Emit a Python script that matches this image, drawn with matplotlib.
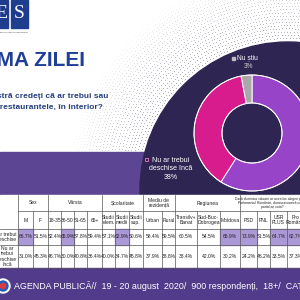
import numpy as np
import matplotlib.pyplot as plt
from matplotlib.patches import Rectangle, Circle

# donut values
slice_labels = ['Ar trebui deschise', 'Nu ar trebui\ndeschise încă', 'Nu știu']
slice_values = [59, 38, 3]
slice_colors = ['#9844c8', '#d81b8d', '#a9a9a9']

# table
group_names = ['Sex', 'Vârsta', 'Școlaritate', 'Mediu de\nrezidență', 'Regiunea',
               'Dacă duminica viitoare ar avea loc alegeri pentru\nParlamentul României, dumneavoastră cu ce\npartid ați vota?']
group_spans = [2, 4, 3, 2, 3, 4]
column_names = ['M', 'F', '18-35', '36-50', '51-65', '65+',
                'Studii\nelem.', 'Studii\nmedii', 'Studii\nsup.', 'Urban', 'Rural',
                'Transilv+\nBanat', 'Sud-Buc-\nDobrogea', 'Moldova',
                'PSD', 'PNL', 'USR\nPLUS', 'Pro\nRomânia']
row_names = ['Ar trebui\ndeschise', 'Nu ar\ntrebui\ndeschise\nîncă']
row_open = [66.7, 51.5, 52.4, 65.9, 57.8, 59.4, 57.1, 62.9, 50.6, 58.4, 59.5,
            60.5, 54.5, 65.9, 73.9, 51.5, 64.7, 62.7]
row_closed = [31.0, 45.3, 46.7, 30.0, 40.8, 36.4, 40.0, 34.7, 45.8, 37.9, 38.8,
              38.4, 42.0, 30.2, 24.2, 46.2, 33.5, 37.3]
highlight = [True, False, False, True, False, False, False, True, False, False, False,
             False, False, True, True, False, True, True]

title = 'TEMA ZILEI'
question = ['Dumneavoastră credeți că ar trebui sau',
            'nu să fie deschise restaurantele, în interior?']
footer = 'AGENDA PUBLICĂ//  19 - 20 august  2020/  900 respondenți,  18+/  CATI'

plt.rcParams['font.family'] = ['Liberation Sans', 'DejaVu Sans']

fig = plt.figure(figsize=(3, 3), dpi=100)
ax = fig.add_axes([0, 0, 1, 1])

# background dot pattern
dcx, dcy = 288, 190
for r in np.arange(152, 222, 3.2):
    n = int(2 * np.pi * r / 3.2)
    t = np.linspace(0, 2 * np.pi, n, endpoint=False)
    xs = dcx + r * np.cos(t)
    ys = dcy + r * np.sin(t)
    keep = ys < 152
    a = max(0.0, 1 - (r - 152) / 70)
    ax.scatter(xs[keep], ys[keep], s=0.35, color='#8c8ca4', alpha=0.85 * a,
               linewidths=0, zorder=1)

# purple band + dark circle
ax.add_patch(Rectangle((0, 152), 300, 45, color='#5c4592', zorder=2))
ax.add_patch(Circle((dcx, dcy), 148, color='#2f2553', zorder=3))

# donut
cx, cy = 252, 133
ax.pie(slice_values, colors=slice_colors, center=(cx, cy), radius=58,
       startangle=-90, counterclock=True,
       wedgeprops=dict(width=28, edgecolor='white', linewidth=0.7, zorder=5))
for rr in (58, 30):
    ax.add_patch(Circle((cx, cy), rr, fill=False, edgecolor='white', lw=0.6, zorder=6))

ax.text(171, 169, slice_labels[1] + '\n%d%%' % slice_values[1], color='white',
        fontsize=5.0, ha='center', va='center', linespacing=1.3, zorder=7)
ax.add_patch(Rectangle((231.5, 56.5), 3, 3, color='#bdbdbd', zorder=7))
ax.text(237, 58, slice_labels[2], color='white', fontsize=4.8, ha='left', va='center', zorder=7)
ax.text(249, 66, '%d%%' % slice_values[2], color='#d0d0d0', fontsize=4.8, ha='center',
        va='center', zorder=7)
ax.add_patch(Rectangle((144.5, 157.5), 3, 3, fill=False, edgecolor='#f07ac0', lw=0.6, zorder=7))

# logo
ax.add_patch(Rectangle((-10, 0), 18, 28, color='#1e3d8f', zorder=5))
ax.add_patch(Rectangle((11, 0), 17, 28, color='#1e3d8f', zorder=5))
ax.text(1.5, 14, 'E', color='white', fontsize=14, family='Liberation Serif',
        ha='center', va='center', zorder=6)
ax.text(19.5, 14, 'S', color='white', fontsize=14, family='Liberation Serif',
        ha='center', va='center', zorder=6)
ax.text(28, 32, 'EVALUARE ȘI STRATEGIE', fontsize=1.6, color='#333333',
        ha='right', va='center', zorder=6)

# title and question
ax.text(85, 60, title, color='#1f3f96', fontsize=15, fontweight='bold',
        ha='right', va='center', zorder=5)
ax.text(108, 96, question[0], color='#253f7e', fontsize=6.0, fontweight='bold',
        ha='right', va='center', zorder=5)
ax.text(103, 107, question[1], color='#253f7e', fontsize=6.0, fontweight='bold',
        ha='right', va='center', zorder=5)

# table
edges = [0, 18, 33, 48, 61, 74, 87, 102, 115, 129, 143, 162, 175, 197, 220, 240,
         257, 270, 287, 304]
y_top, y_h1, y_h2, y_r1, y_bot = 195, 211, 229, 245, 268
ax.add_patch(Rectangle((0, y_top), 300, y_bot - y_top, color='white', zorder=4))
lc = '#555555'
for i, h in enumerate(highlight):
    if h:
        ax.add_patch(Rectangle((edges[i + 1], y_h2), edges[i + 2] - edges[i + 1],
                               y_r1 - y_h2, color='#ab98d6', zorder=4.5))
for y in (y_h2, y_r1, y_bot):
    ax.plot([0, 300], [y, y], color=lc, lw=0.5, zorder=5)
ax.plot([18, 300], [y_h1, y_h1], color=lc, lw=0.5, zorder=5)
group_edges = [1]
for s in group_spans:
    group_edges.append(group_edges[-1] + s)
for k, x in enumerate(edges[1:-1], start=1):
    y0 = y_top if k in group_edges else y_h1
    ax.plot([x, x], [y0, y_bot], color=lc, lw=0.5, zorder=5)

fs = 3.6
for g, name in enumerate(group_names):
    a, b = edges[group_edges[g]], edges[group_edges[g + 1]]
    gfs = 2.4 if g == len(group_names) - 1 else fs
    ax.text((a + b) / 2, (y_top + y_h1) / 2, name, fontsize=gfs, ha='center',
            va='center', color='#222222', linespacing=1.1, zorder=6)
for i, name in enumerate(column_names):
    xc = (edges[i + 1] + edges[i + 2]) / 2
    ax.text(xc, (y_h1 + y_h2) / 2, name, fontsize=fs, ha='center', va='center',
            color='#222222', linespacing=1.1, zorder=6)
    ax.text(xc, (y_h2 + y_r1) / 2, '%.1f%%' % row_open[i], fontsize=fs, ha='center',
            va='center', color='#222222', zorder=6)
    ax.text(xc, (y_r1 + y_bot) / 2, '%.1f%%' % row_closed[i], fontsize=fs, ha='center',
            va='center', color='#222222', zorder=6)
ax.text(7, (y_h2 + y_r1) / 2, row_names[0], fontsize=fs, ha='center', va='center',
        color='#222222', linespacing=1.1, zorder=6)
ax.text(7, (y_r1 + y_bot) / 2, row_names[1], fontsize=fs, ha='center', va='center',
        color='#222222', linespacing=1.1, zorder=6)

# footer
ax.add_patch(Rectangle((0, y_bot), 300, 300 - y_bot, color='#523b8a', zorder=4))
ax.add_patch(Circle((3, 286), 7, color='white', zorder=5))
ax.add_patch(Circle((3, 286), 5, color='#2a5bb8', zorder=5.5))
ax.add_patch(Circle((3, 286), 2.5, color='#e03a3a', zorder=5.6))
ax.text(14, 286, footer, color='white', fontsize=6.4, ha='left', va='center', zorder=6)

ax.set_xlim(0, 300)
ax.set_ylim(300, 0)
ax.set_aspect('equal')
ax.axis('off')

fig.savefig('out.png', dpi=100)
